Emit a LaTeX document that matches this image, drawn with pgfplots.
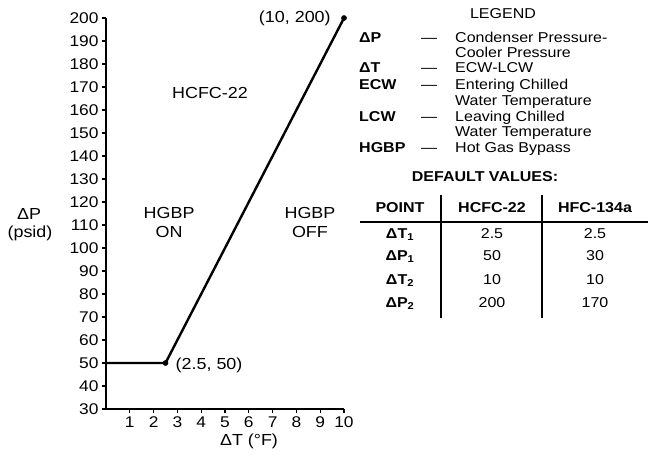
\documentclass[border=0pt]{standalone}
\usepackage{fontspec}
\setmainfont{Liberation Sans}[FakeStretch=1.12]
\usepackage{pgfplots}
\pgfplotsset{compat=1.18}
\newcommand{\fbig}{\fontsize{16}{18}\selectfont}
\newcommand{\fmid}{\fontsize{14.3}{16}\selectfont}
\begin{document}
\fmid
\begin{tikzpicture}[every node/.style={font=\fmid}]
\useasboundingbox (0pt,0pt) rectangle (649pt,-459pt);
\begin{axis}[
  at={(106pt,-409pt)}, anchor=south west,
  scale only axis, width=238pt, height=391pt,
  xmin=0, xmax=10, ymin=30, ymax=200,
  axis x line*=bottom, axis y line*=left,
  axis line style={line width=1.6pt, -},
  xtick={1,...,10}, ytick={30,40,...,200},
  tick style={line width=1.2pt, black},
  tick align=outside, major tick length=4pt,
  /pgf/number format/assume math mode=true,
  tick label style={font=\fontsize{15.5}{17}\selectfont},
  yticklabel style={xshift=1.5pt},
  xticklabel style={yshift=1pt},
  clip=false,
]
\addplot[line width=2.4pt, black] coordinates {(0,50) (2.5,50) (10,200)};
\addplot[only marks, mark=*, mark size=2.6pt, black] coordinates {(2.5,50) (10,200)};
\node[anchor=mid east, font=\fbig] at (axis cs:9.65,199.5) {(10, 200)};
\node[anchor=mid west, font=\fbig] at (axis cs:2.72,49) {(2.5, 50)};
\node[font=\fbig] at (axis cs:4.37,167.4) {HCFC-22};
\node[align=center, font=\fbig, inner sep=0pt] at (axis cs:2.65,111) {HGBP\\[1pt]ON};
\node[align=center, font=\fbig, inner sep=0pt] at (axis cs:8.57,111) {HGBP\\[1pt]OFF};
\end{axis}
% axis titles
\node[font=\fbig] at (29pt,-214pt) {ΔP};
\node[font=\fbig] at (30pt,-233pt) {(psid)};
\node[font=\fbig] at (249pt,-441pt) {ΔT (°F)};
% legend
\node[anchor=mid] at (503pt,-15pt) {LEGEND};
\foreach \lab/\y in {{ΔP}/39,{ΔT}/69,{ECW}/86,{LCW}/118,{HGBP}/149}{
  \node[anchor=mid west, inner sep=0pt] at (359pt,-\y pt) {\bfseries \lab};
  \node[anchor=mid west, inner sep=0pt] at (421pt,-\y pt) {---};
}
\foreach \txt/\y in {{Condenser Pressure-}/39,{Cooler Pressure}/54,{ECW-LCW}/69,{Entering Chilled}/86,{Water Temperature}/102,{Leaving Chilled}/118,{Water Temperature}/133,{Hot Gas Bypass}/149}{
  \node[anchor=mid west, inner sep=0pt] at (455pt,-\y pt) {\txt};
}
% table
\node[anchor=mid] at (485pt,-178pt) {\bfseries DEFAULT VALUES:};
\draw[line width=1.6pt] (360pt,-222pt) -- (648pt,-222pt);
\draw[line width=1.6pt] (441pt,-195pt) -- (441pt,-318pt);
\draw[line width=1.6pt] (542pt,-195pt) -- (542pt,-318pt);
\node[anchor=mid] at (400pt,-209pt) {\bfseries POINT};
\node[anchor=mid] at (492pt,-209pt) {\bfseries HCFC-22};
\node[anchor=mid] at (595pt,-209pt) {\bfseries HFC-134a};
\foreach \a/\b/\c/\y in {T/2.5/2.5/235,P/50/30/257}{
  \node[anchor=mid] at (400pt,-\y pt) {\bfseries Δ\a\textsubscript{1}};
  \node[anchor=mid] at (492pt,-\y pt) {\b};
  \node[anchor=mid] at (595pt,-\y pt) {\c};
}
\foreach \a/\b/\c/\y in {T/10/10/281,P/200/170/304}{
  \node[anchor=mid] at (400pt,-\y pt) {\bfseries Δ\a\textsubscript{2}};
  \node[anchor=mid] at (492pt,-\y pt) {\b};
  \node[anchor=mid] at (595pt,-\y pt) {\c};
}
\end{tikzpicture}
\end{document}
